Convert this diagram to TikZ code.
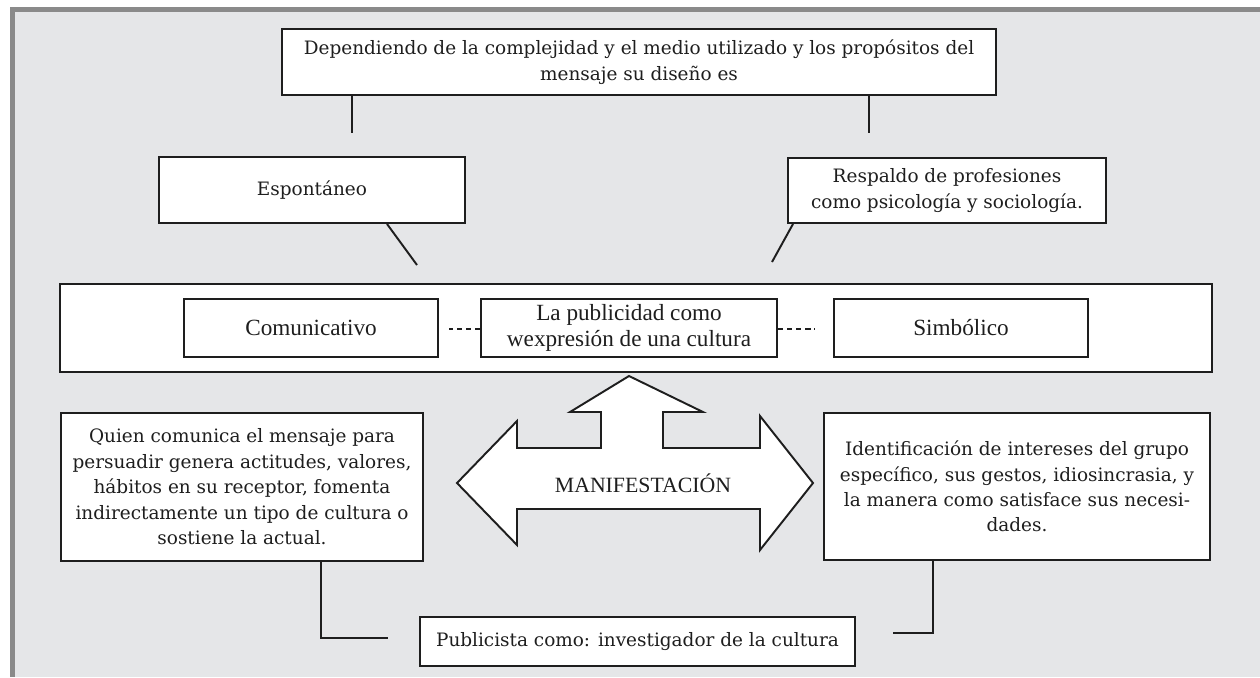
\documentclass[tikz,border=0pt]{standalone}
\usepackage{fontspec}
\setmainfont{DejaVu Serif}
\newfontfamily\angostafont{Liberation Serif}
\usetikzlibrary{positioning, calc}
\definecolor{PanelGray}{HTML}{E5E6E8}
\definecolor{FrameGray}{HTML}{8A8A8A}
\definecolor{InkBlack}{HTML}{1E1E1E}
\tikzset{
  caja/.style={draw=InkBlack, fill=white, line width=1.1pt, inner sep=0pt,
               text=InkBlack, align=center,
               font=\fontsize{10.5}{14.5}\selectfont},
  cajita/.style={caja, font=\angostafont\fontsize{13.2}{15}\selectfont},
  enlace/.style={draw=InkBlack, line width=1.1pt},
  guion/.style={enlace, dash pattern=on 3pt off 2.2pt},
  flecha/.style={draw=InkBlack, fill=white, line width=1.1pt, line join=miter}
}

\begin{document}
\begin{tikzpicture}[x=0.02cm, y=-0.02cm]
    \useasboundingbox (0,0) rectangle (1260,677);

    % Panel
    \fill[PanelGray] (10,7) rectangle (1260,677);
    \fill[FrameGray] (10,7) rectangle (1260,12);
    \fill[FrameGray] (10,7) rectangle (15,677);

    % Top
    \node[caja, minimum width=14.28cm, minimum height=1.32cm] (diseno) at (639,62)
        {Dependiendo de la complejidad y el medio utilizado y los propósitos del\\
         mensaje su diseño es};
    \node[caja, minimum width=6.12cm, minimum height=1.32cm] (espontaneo) at (312,190) {Espontáneo};
    \node[caja, minimum width=6.36cm, minimum height=1.30cm] (respaldo) at (947,190.5)
        {Respaldo de profesiones\\como psicología y sociología.};

    \coordinate (dis1) at (352,133);
    \coordinate (dis2) at (869,133);
    \draw[enlace] (diseno.south -| dis1) -- (dis1);
    \draw[enlace] (diseno.south -| dis2) -- (dis2);

    \coordinate (esp1) at (417,265);
    \coordinate (res1) at (772,262);
    \draw[enlace] ($(espontaneo.south)+(75,0)$) -- (esp1);
    \draw[enlace] ($(respaldo.south)+(-154,0)$) -- (res1);

    % Middle band
    \node[caja, minimum width=23.04cm, minimum height=1.76cm] (franja) at (636,328) {};
    \node[cajita, minimum width=5.08cm, minimum height=1.16cm] (comunicativo) at (311,328) {Comunicativo};
    \node[cajita, minimum width=5.92cm, minimum height=1.16cm] (publicidad) at (629,328)
        {La publicidad como\\wexpresión de una cultura};
    \node[cajita, minimum width=5.08cm, minimum height=1.16cm] (simbolico) at (961,328) {Simbólico};

    \coordinate (gui1) at (449,329);
    \coordinate (gui2) at (815,329);
    \draw[guion] (publicidad.west |- gui1) -- (gui1);
    \draw[guion] (publicidad.east |- gui2) -- (gui2);

    % Arrow
    \draw[flecha] (629,376) -- (703,412) -- (663,412) -- (663,448) -- (760,448) -- (760,416)
        -- (813,483) -- (760,550) -- (760,509) -- (517,509) -- (517,545) -- (457,483)
        -- (517,421) -- (517,448) -- (601,448) -- (601,412) -- (570,412) -- cycle;
    \node[font=\angostafont\fontsize{12.4}{14}\selectfont, text=InkBlack] (manifestacion) at (643,483) {MANIFESTACIÓN};

    % Lower boxes
    \node[caja, minimum width=7.24cm, minimum height=2.96cm] (quien) at (242,487)
        {Quien comunica el mensaje para\\persuadir genera actitudes, valores,\\
         hábitos en su receptor, fomenta\\indirectamente un tipo de cultura o\\
         sostiene la actual.};
    \node[caja, minimum width=7.72cm, minimum height=2.94cm] (identificacion) at (1017,486.5)
        {Identificación de intereses del grupo\\específico, sus gestos, idiosincrasia, y\\
         la manera como satisface sus necesi-\\dades.};
    \node[caja, minimum width=8.70cm, minimum height=0.98cm] (publicista) at (637.5,641.5)
        {Publicista como: investigador de la cultura};

    \coordinate (qui1) at (321,638);
    \coordinate (qui2) at (388,638);
    \coordinate (ide1) at (933,633);
    \coordinate (ide2) at (893,633);
    \draw[enlace] (quien.south -| qui1) -- (qui1) -- (qui2);
    \draw[enlace] (identificacion.south -| ide1) -- (ide1) -- (ide2);
\end{tikzpicture}
\end{document}
